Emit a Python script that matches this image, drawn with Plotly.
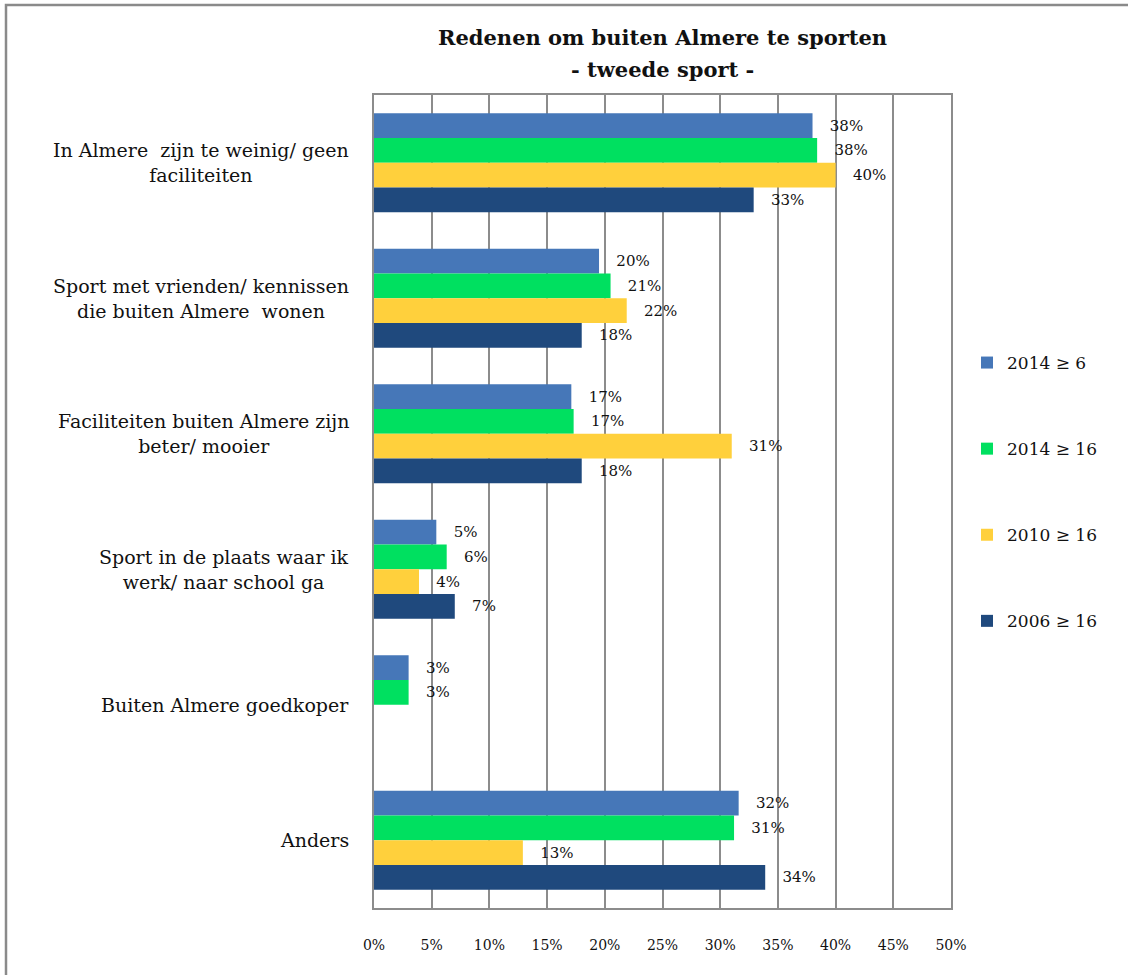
import plotly.graph_objects as go

# Reasons listed top-to-bottom
categories = [
    "In Almere  zijn te weinig/ geen<br>faciliteiten",
    "Sport met vrienden/ kennissen<br>die buiten Almere  wonen",
    "Faciliteiten buiten Almere zijn<br>beter/ mooier",
    "Sport in de plaats waar ik<br>werk/ naar school ga",
    "Buiten Almere goedkoper",
    "Anders",
]

series_names = ["2014 ≥ 6", "2014 ≥ 16", "2010 ≥ 16", "2006 ≥ 16"]

values_2014_6 = [38.0, 19.5, 17.1, 5.4, 3.0, 31.6]
values_2014_16 = [38.4, 20.5, 17.3, 6.3, 3.0, 31.2]
values_2010_16 = [40.0, 21.9, 31.0, 3.9, None, 12.9]
values_2006_16 = [32.9, 18.0, 18.0, 7.0, None, 33.9]

series_values = [values_2014_6, values_2014_16, values_2010_16, values_2006_16]
series_colors = ["#4677B8", "#00E060", "#FFD03C", "#1F497D"]

x_ticks = [0, 5, 10, 15, 20, 25, 30, 35, 40, 45, 50]
x_tick_labels = [f"{t}%" for t in x_ticks]

title_lines = ["Redenen om buiten Almere te sporten", "- tweede sport -"]

FONT = "DejaVu Serif, serif"
GRID = "#8C8C8C"
INK = "#111111"

W, H = 1128, 975
L, R, T, B = 374, W - 951, 95, H - 908
PW, PH = W - L - R, H - T - B


def px_x(p):
    return (p - L) / PW


def px_y(p):
    return (H - B - p) / PH


fig = go.Figure()
for name, vals, col in zip(series_names, series_values, series_colors):
    fig.add_trace(go.Bar(
        y=categories,
        x=vals,
        name=name,
        orientation="h",
        marker=dict(color=col, line=dict(width=0)),
        texttemplate="\u00a0\u00a0\u00a0%{x:.0f}%",
        textposition="outside",
        constraintext="none",
        cliponaxis=False,
        textfont=dict(family=FONT, size=15, color=INK),
        legendgroup=name,
    ))

# Category labels, each line centred, block right-aligned to the axis
annotations = []
for c in categories:
    annotations.append(dict(
        x=px_x(351), xref="paper", xanchor="right",
        y=c, yref="y", yanchor="middle",
        text=c, align="center", showarrow=False,
        font=dict(family=FONT, size=19, color=INK),
    ))

# Two-line bold title
for line, ypix in zip(title_lines, [37, 70]):
    annotations.append(dict(
        x=0.5, xref="paper", xanchor="center",
        y=px_y(ypix), yref="paper", yanchor="middle",
        text=f"<b>{line}</b>",
        showarrow=False,
        font=dict(family=FONT, size=21, color=INK),
    ))

fig.update_layout(
    width=W, height=H,
    margin=dict(l=L, r=R, t=T, b=B, autoexpand=False),
    paper_bgcolor="white",
    plot_bgcolor="white",
    barmode="group",
    bargap=0.27,
    bargroupgap=0,
    font=dict(family=FONT, color=INK),
    showlegend=True,
    legend=dict(
        x=px_x(967), xanchor="left",
        y=px_y(345), yanchor="top",
        traceorder="grouped",
        tracegroupgap=61,
        font=dict(family=FONT, size=17, color=INK),
        bgcolor="rgba(0,0,0,0)",
    ),
    annotations=annotations,
    shapes=[dict(
        type="rect", xref="paper", yref="paper",
        x0=px_x(6), x1=px_x(W + 20), y0=px_y(H + 20), y1=px_y(5),
        line=dict(color="#8A8A8A", width=2.5), fillcolor="rgba(0,0,0,0)",
        layer="below",
    )],
)

fig.update_xaxes(
    range=[0, 50],
    tickvals=x_ticks,
    ticktext=x_tick_labels,
    showgrid=True, gridcolor=GRID, gridwidth=2,
    showline=True, linecolor=GRID, linewidth=2, mirror=True,
    zeroline=False,
    ticks="",
    ticklabelstandoff=23,
    tickfont=dict(family=FONT, size=14, color=INK),
    fixedrange=True,
)
fig.update_yaxes(
    autorange="reversed",
    showticklabels=False,
    showgrid=False,
    showline=True, linecolor=GRID, linewidth=2, mirror=True,
    ticks="",
    fixedrange=True,
)

fig.write_html("out.html")
